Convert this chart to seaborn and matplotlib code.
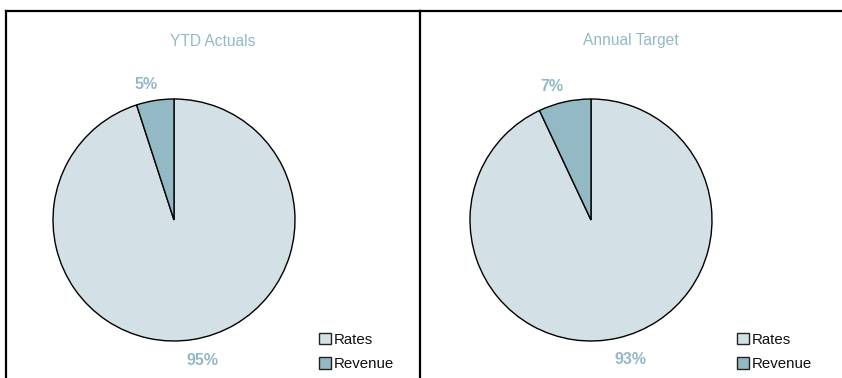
import numpy as np
import matplotlib
matplotlib.use("Agg")
import matplotlib.pyplot as plt
import seaborn as sns

categories = ["Rates", "Revenue"]
ytd_values = [95, 5]
target_values = [93, 7]
titles = ["YTD Actuals", "Annual Target"]

sns.set_theme(style="white")
plt.rcParams['font.family'] = ['Liberation Sans', 'DejaVu Sans']

colors = ["#D3E1E6", "#93B9C4"]
text_color = "#93B9C6"

W, H = 842, 378
fig = plt.figure(figsize=(W / 100, H / 100), dpi=100)

R = 121.0  # pie radius in px
panels = [
    dict(x0=6, x1=420, cx=174, values=ytd_values, title=titles[0], leg_x=308),
    dict(x0=420, x1=842, cx=591, values=target_values, title=titles[1], leg_x=726),
]
top, cy = 11, 220

for p in panels:
    ax = fig.add_axes([p["x0"] / W, 0, (p["x1"] - p["x0"]) / W, (H - top) / H])
    wedges, texts, autotexts = ax.pie(
        p["values"], colors=colors, startangle=90, counterclock=False,
        autopct="%1.0f%%", pctdistance=1.15,
        wedgeprops=dict(edgecolor="black", linewidth=1.0),
        textprops=dict(color=text_color, fontsize=11.5, fontweight="bold"),
    )
    for w, t in zip(wedges, autotexts):
        ang = np.deg2rad((w.theta1 + w.theta2) / 2)
        t.set_position((1.48 * np.cos(ang), 1.155 * np.sin(ang) - 0.022))
        t.set_ha("center"); t.set_va("center")
    ax.set_xlim((p["x0"] - p["cx"]) / R, (p["x1"] - p["cx"]) / R)
    ax.set_ylim(-(H - cy) / R, (cy - top) / R)
    ax.set_aspect("auto")
    ax.set_frame_on(True)
    for s in ["right", "bottom"]:
        ax.spines[s].set_visible(False)
    for s in ["top", "left"]:
        ax.spines[s].set_visible(True)
        ax.spines[s].set_color("black")
        ax.spines[s].set_linewidth(1.6)
    ax.set_xticks([]); ax.set_yticks([])
    ax.text(0.5, 1 - (41 - top) / (H - top), p["title"], transform=ax.transAxes,
            ha="center", va="center", color=text_color, fontsize=11.2)
    leg = ax.legend(wedges, categories, loc="lower left",
                    bbox_to_anchor=(p["leg_x"] / W, -4 / H), bbox_transform=fig.transFigure,
                    frameon=False, fontsize=10.8, handlelength=0.82, handleheight=0.82,
                    handletextpad=0.2, labelspacing=0.72, borderpad=0.2,
                    labelcolor="#111111")
    for h in leg.legend_handles:
        h.set_edgecolor("#222222")
        h.set_linewidth(1.0)

fig.savefig("out.png", dpi=100)
